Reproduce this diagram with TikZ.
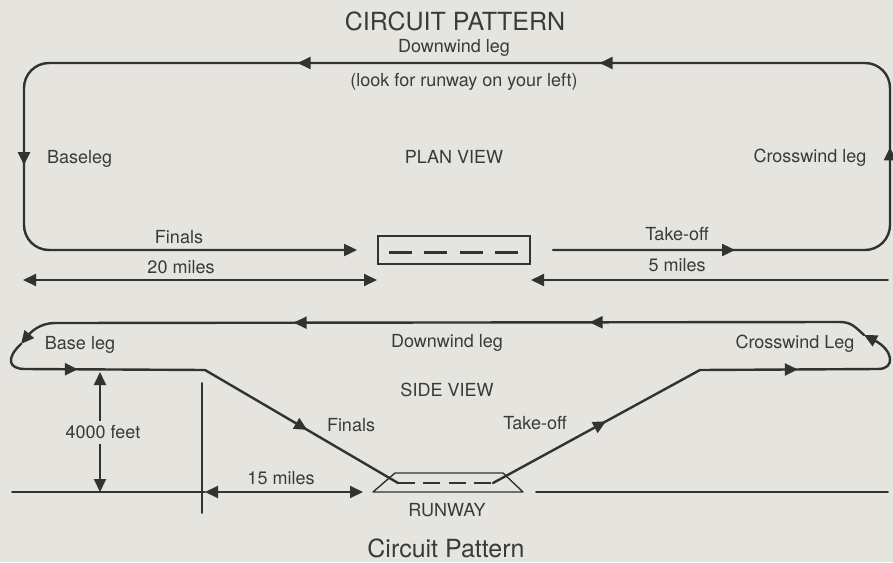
\documentclass[tikz,border=0pt]{standalone}
\usepackage{fontspec}
\setmainfont{TeX Gyre Heros}
\usetikzlibrary{arrows.meta,decorations.markings}
\definecolor{paper}{RGB}{229,228,223}
\definecolor{ink}{RGB}{50,50,50}
\definecolor{txt}{RGB}{58,58,58}
\begin{document}
\begin{tikzpicture}[x=1pt,y=-1pt,
  >={Triangle[length=13pt,width=12pt]},
  trail/.style={draw=ink, line width=2.4pt, line join=round, line cap=round},
  thin trail/.style={draw=ink, line width=1.9pt, line cap=round},
  lbl/.style={text=txt, font=\fontsize{18}{20}\selectfont, inner sep=0pt, text height=13pt, text depth=0pt},
  title/.style={text=txt, font=\fontsize{25}{28}\selectfont, inner sep=0pt, text height=18pt, text depth=0pt},
  tipat/.style={postaction={decorate, decoration={markings, mark=at position #1 with {\arrow{>}}}}}
]
\fill[paper] (0,0) rectangle (893,562);
\useasboundingbox (0,0) rectangle (893,562);

% ---------------- PLAN VIEW ----------------
\node[title] (t1) at (455,21) {CIRCUIT PATTERN};
\node[lbl] (dw1) at (454,46) {Downwind leg};
\node[lbl] (look) at (464,80) {(look for runway on your left)};
\node[lbl] (plan) at (454,157) {PLAN VIEW};
\node[lbl, anchor=west] (base1) at (47,157) {Baseleg};
\node[lbl] (cw1) at (810,156) {Crosswind leg};
\node[lbl] (fin1) at (179,237) {Finals};
\node[lbl] (m20) at (181,267) {20 miles};
\node[lbl] (to1) at (677,234) {Take-off};
\node[lbl] (m5) at (677,265) {5 miles};

\coordinate (tkoff) at (553,250);
\coordinate (finend) at (357,250);
\coordinate (cRB) at (890,250);
\coordinate (cRT) at (890,63);
\coordinate (cLT) at (24,63);
\coordinate (cLB) at (24,250);
\draw[trail, rounded corners=25pt, tipat=182pt, tipat=429pt, tipat=793pt, tipat=1095pt, tipat=1460pt, ->]
  (tkoff) -- (cRB) -- (cRT) -- (cLT) -- (cLB) -- (finend);

\node[draw=ink, line width=1.6pt, minimum width=152pt, minimum height=28pt, inner sep=0pt] (rwp) at (454,250) {};
\coordinate (dpa) at (389,252);
\coordinate (dpb) at (518,252);
\draw[ink, line width=3pt, dash pattern=on 23pt off 12.3pt] (dpa) -- (dpb);

\coordinate (a20) at (23,280);
\coordinate (b20) at (377,280);
\draw[thin trail, <->] (a20) -- (b20);
\coordinate (a5) at (888,280);
\coordinate (b5) at (531,280);
\draw[thin trail, ->] (a5) -- (b5);

% ---------------- SIDE VIEW ----------------
\node[lbl] (base2) at (80,343) {Base leg};
\node[lbl] (dw2) at (447,341) {Downwind leg};
\node[lbl] (cw2) at (795,342) {Crosswind Leg};
\node[lbl] (side) at (447,390) {SIDE VIEW};
\node[lbl] (fin2) at (351,425) {Finals};
\node[lbl] (to2) at (535,423) {Take-off};
\node[lbl] (m15) at (281,478) {15 miles};
\node[lbl] (rwy) at (447,510) {RUNWAY};
\node[title] (t2) at (446,548) {Circuit Pattern};

\coordinate (rwL) at (398,483);
\coordinate (rwR) at (493,483);
\coordinate (bendL) at (205,370);
\coordinate (bendR) at (700,370);
\coordinate (hiR) at (878,369);
\coordinate (loopR) at (864,335);
\coordinate (topR) at (840,322);
\coordinate (topL) at (55,323);
\coordinate (loopL) at (21,344);
\coordinate (lowL) at (25,369);

\draw[trail, tipat=0.546] (rwR) -- (bendR);
\draw[trail, tipat=0.55] (bendR) -- (hiR);
\draw[trail, ->] (hiR) .. controls (896,369) and (893,350) .. (loopR);
\draw[trail] (loopR) .. controls (856,328) and (852,322) .. (topR);
\draw[trail, tipat=0.319, tipat=0.696] (topR) -- (topL);
\draw[trail, ->] (topL) .. controls (40,323) and (31,332) .. (loopL);
\draw[trail] (loopL) .. controls (6,358) and (8,369) .. (lowL);
\draw[trail, tipat=0.294] (lowL) -- (bendL);
\draw[trail, tipat=0.53] (bendL) -- (rwL);

% runway (side)
\coordinate (rb1) at (373,492);
\coordinate (rb2) at (523,492);
\coordinate (rt2) at (503,473);
\coordinate (rt1) at (395,473);
\draw[ink, line width=1.4pt, line join=round] (rb1) -- (rb2) -- (rt2) -- (rt1) -- cycle;
\draw[ink, line width=2.8pt, dash pattern=on 17pt off 8.3pt] (rwL) -- (rwR);

% ground and measures
\coordinate (g1) at (12,492);
\coordinate (g2) at (205,492);
\coordinate (g3) at (363,492);
\coordinate (g4) at (536,492);
\coordinate (g5) at (888,492);
\draw[thin trail] (g1) -- (g2);
\draw[thin trail, <->] (g2) -- (g3);
\draw[thin trail] (g4) -- (g5);
\coordinate (v1) at (202,383);
\coordinate (v2) at (202,513);
\draw[thin trail] (v1) -- (v2);
\coordinate (h1) at (100,372);
\coordinate (h2) at (100,492);
\draw[thin trail, <->] (h1) -- (h2);
\node[lbl, fill=paper, inner xsep=1pt, inner ysep=5pt] (ft) at (103,432) {4000 feet};
\end{tikzpicture}
\end{document}
